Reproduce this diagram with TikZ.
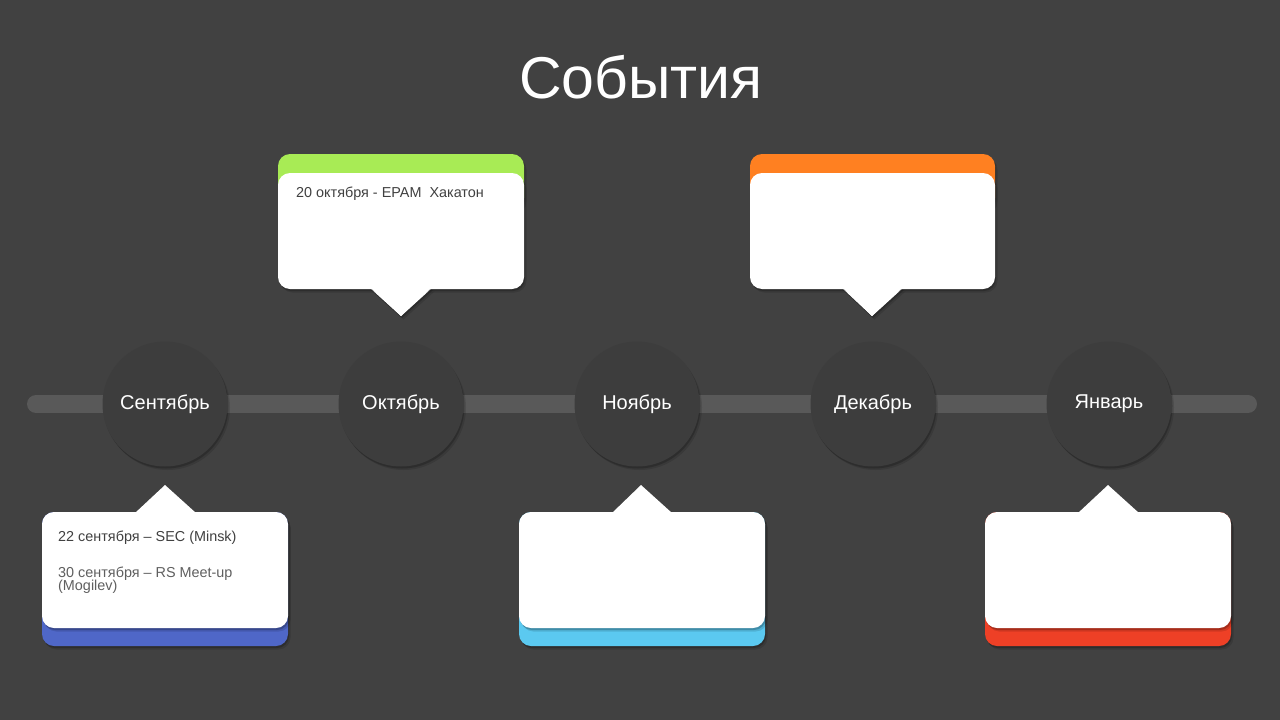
\documentclass[tikz,border=0pt]{standalone}
\usepackage{fontspec}
\setmainfont{Liberation Sans}
\usetikzlibrary{shadows}

\definecolor{bg}{HTML}{414141}
\definecolor{track}{HTML}{595959}
\definecolor{circ}{HTML}{3D3D3D}
\definecolor{octgreen}{HTML}{A8EB55}
\definecolor{decorange}{HTML}{FF8021}
\definecolor{sepblue}{HTML}{4F67C8}
\definecolor{novcyan}{HTML}{5BC9F0}
\definecolor{janred}{HTML}{EE4026}
\definecolor{notedark}{HTML}{404040}
\definecolor{notegray}{HTML}{5F5F5F}

\begin{document}
\begin{tikzpicture}[x=1pt, y=-1pt,
		shade/.style={drop shadow={shadow xshift=1pt, shadow yshift=-2pt, opacity=0.2, fill=black},
			drop shadow={shadow xshift=2.5pt, shadow yshift=-3.5pt, opacity=0.12, fill=black}},
		month/.style={circle, minimum size=125pt, inner sep=0pt, fill=circ, shade,
			text=white, font=\fontsize{20}{24}\selectfont},
		card/.style={fill=white, rounded corners=12pt, shade},
		band/.style={rounded corners=12pt, shade},
		tip/.style={fill=white, shade},
		note/.style={anchor=base west, inner sep=0pt, font=\fontsize{14.4}{13}\selectfont}]

			%background
			\fill[bg] (0, 0) rectangle (1280, 720);
			\useasboundingbox (0, 0) rectangle (1280, 720);

			\node[anchor=base, text=white, font=\fontsize{59}{70}\selectfont] (title) at (641, 98)
				{События};

			% track
			\coordinate (trackl) at (36, 404);
			\coordinate (trackr) at (1248, 404);
			\draw[track, line width=18, line cap=round, shade]
				(trackl) -- (trackr);

			% months
			\node[month] (sep) at (165, 404)
				{Сентябрь};
			\node[month] (oct) at (401, 404)
				{Октябрь};
			\node[month] (nov) at (637, 404)
				{Ноябрь};
			\node[month] (dec) at (873, 404)
				{Декабрь};
			\node[month] (jan) at (1109, 404)
				{Январь};

			% Oct
			\fill[octgreen, band]
				(278, 154) rectangle (524, 210);
			\fill[tip]
				(370, 288) -- (401, 316) -- (432, 288) -- cycle;
			\fill[card]
				(278, 173) rectangle (524, 289);
			\fill[white]
				(370, 287) -- (401, 316) -- (432, 287) -- cycle;
			\node[note, text=notedark] (octnote) at (296, 197)
				{20 октября - EPAM\ \ Хакатон};

			% Dec
			\fill[decorange, band]
				(750, 154) rectangle (995, 210);
			\fill[tip]
				(842, 288) -- (872, 316) -- (903, 288) -- cycle;
			\fill[card]
				(750, 173) rectangle (995, 289);
			\fill[white]
				(842, 287) -- (872, 316) -- (903, 287) -- cycle;

			% Sep
			\fill[sepblue, band]
				(42, 512) rectangle (288, 646);
			\fill[tip]
				(135, 513) -- (165, 485) -- (196, 513) -- cycle;
			\fill[card]
				(42, 512) rectangle (288, 628);
			\node[note, text=notedark] (sepnotea) at (58, 541)
				{22 сентября – SEC (Minsk)};
			\node[note, text=notegray] (sepnoteb) at (58, 577)
				{30 сентября – RS Meet-up};
			\node[note, text=notegray] (sepnotec) at (58, 590)
				{(Mogilev)};

			% Nov
			\fill[novcyan, band]
				(519, 512) rectangle (765, 646);
			\fill[tip]
				(612, 513) -- (641, 485) -- (672, 513) -- cycle;
			\fill[card]
				(519, 512) rectangle (765, 628);

			% Jan
			\fill[janred, band]
				(985, 512) rectangle (1231, 646);
			\fill[tip]
				(1078, 513) -- (1108, 485) -- (1139, 513) -- cycle;
			\fill[card]
				(985, 512) rectangle (1231, 628);

		\end{tikzpicture}
\end{document}
